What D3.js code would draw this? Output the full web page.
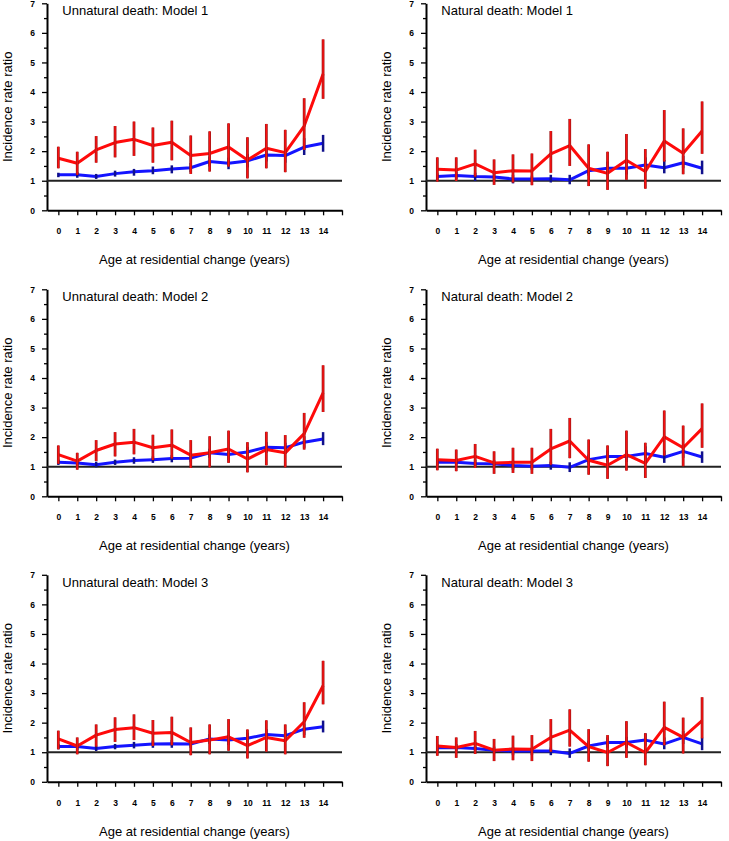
<!DOCTYPE html>
<html>
<head>
<meta charset="utf-8">
<script src="https://cdn.jsdelivr.net/npm/d3@7"></script>
<style>
  html, body { margin: 0; padding: 0; background: #fff; }
  svg { display: block; font-family: "Liberation Sans", Arial, Helvetica, sans-serif; }
</style>
</head>
<body>
<svg id="chart" width="729" height="841"></svg>
<script>
// ---- Data ----
const ages = [0,1,2,3,4,5,6,7,8,9,10,11,12,13,14];
const xTickValues = [0,1,2,3,4,5,6,7,8,9,10,11,12,13,14,15];
const xTickLabels = ["0","1","2","3","4","5","6","7","8","9","10","11","12","13","14",""];
const yTickValues = [0,1,2,3,4,5,6,7];
const panelTitles = ["Unnatural death: Model 1","Natural death: Model 1",
                     "Unnatural death: Model 2","Natural death: Model 2",
                     "Unnatural death: Model 3","Natural death: Model 3"];

// Unnatural death, Model 1
const u1Red   = [1.76,1.59,2.04,2.29,2.40,2.19,2.30,1.85,1.92,2.14,1.70,2.10,1.95,2.85,4.61];
const u1RedLo = [1.42,1.20,1.61,1.79,1.84,1.61,1.69,1.23,1.31,1.48,1.08,1.42,1.29,2.04,3.77];
const u1RedHi = [2.15,1.98,2.51,2.85,3.00,2.80,3.03,2.53,2.67,2.94,2.47,2.92,2.72,3.79,5.78];
const u1Blue   = [1.20,1.20,1.14,1.24,1.30,1.34,1.40,1.44,1.65,1.59,1.67,1.87,1.85,2.14,2.27];
const u1BlueLo = [1.12,1.10,1.06,1.14,1.17,1.22,1.25,1.29,1.48,1.39,1.45,1.65,1.61,1.87,1.98];
const u1BlueHi = [1.27,1.29,1.23,1.34,1.40,1.48,1.52,1.60,1.82,1.78,1.91,2.07,2.06,2.44,2.55];

// Natural death, Model 1
const n1Red   = [1.39,1.36,1.57,1.27,1.34,1.33,1.91,2.19,1.42,1.25,1.69,1.31,2.34,1.93,2.68];
const n1RedLo = [0.97,0.99,1.14,0.86,0.94,0.85,1.27,1.50,0.82,0.69,1.03,0.73,1.65,1.22,1.91];
const n1RedHi = [1.79,1.79,2.05,1.72,1.89,1.92,2.68,3.09,2.23,1.98,2.58,2.07,3.39,2.77,3.68];
const n1Blue   = [1.14,1.18,1.14,1.13,1.06,1.06,1.07,1.03,1.34,1.42,1.42,1.53,1.44,1.61,1.42];
const n1BlueLo = [1.03,1.06,0.99,0.99,0.91,0.95,0.94,0.88,1.17,1.23,1.21,1.31,1.25,1.42,1.22];
const n1BlueHi = [1.25,1.31,1.27,1.25,1.20,1.17,1.20,1.20,1.53,1.65,1.65,1.79,1.70,1.84,1.68];

// Unnatural death, Model 2
const u2Red   = [1.41,1.19,1.55,1.77,1.83,1.64,1.73,1.39,1.47,1.60,1.26,1.58,1.47,2.12,3.50];
const u2RedLo = [1.10,0.90,1.19,1.35,1.42,1.23,1.28,0.96,0.98,1.13,0.81,1.05,0.98,1.58,2.85];
const u2RedHi = [1.72,1.47,1.90,2.17,2.28,2.08,2.26,1.90,2.03,2.22,1.83,2.18,2.07,2.82,4.43];
const u2Blue   = [1.15,1.13,1.07,1.15,1.21,1.24,1.28,1.29,1.47,1.41,1.50,1.66,1.64,1.83,1.94];
const u2BlueLo = [1.06,1.02,0.98,1.06,1.10,1.13,1.15,1.15,1.30,1.22,1.32,1.47,1.45,1.64,1.73];
const u2BlueHi = [1.24,1.24,1.17,1.24,1.32,1.35,1.39,1.41,1.61,1.58,1.67,1.83,1.81,2.03,2.17];

// Natural death, Model 2
const n2Red   = [1.24,1.21,1.35,1.13,1.15,1.15,1.60,1.87,1.22,1.05,1.41,1.11,2.01,1.64,2.29];
const n2RedLo = [0.88,0.85,0.96,0.76,0.79,0.76,1.07,1.29,0.73,0.59,0.87,0.62,1.38,1.02,1.64];
const n2RedHi = [1.61,1.58,1.77,1.52,1.64,1.64,2.28,2.65,1.92,1.72,2.22,1.81,2.90,2.39,3.14];
const n2Blue   = [1.15,1.15,1.11,1.10,1.04,1.02,1.04,0.98,1.24,1.35,1.35,1.45,1.32,1.52,1.33];
const n2BlueLo = [1.04,1.04,0.99,0.96,0.90,0.90,0.90,0.82,1.07,1.16,1.16,1.24,1.13,1.30,1.13];
const n2BlueHi = [1.26,1.28,1.24,1.22,1.19,1.15,1.17,1.15,1.41,1.55,1.56,1.69,1.55,1.75,1.52];

// Unnatural death, Model 3
const u3Red   = [1.45,1.21,1.58,1.77,1.83,1.64,1.67,1.33,1.41,1.52,1.22,1.50,1.39,2.03,3.25];
const u3RedLo = [1.10,0.93,1.19,1.35,1.41,1.21,1.24,0.90,0.93,1.05,0.79,1.02,0.93,1.49,2.62];
const u3RedHi = [1.73,1.50,1.94,2.18,2.28,2.09,2.20,1.84,1.94,2.12,1.77,2.08,1.94,2.69,4.09];
const u3Blue   = [1.19,1.19,1.13,1.19,1.24,1.28,1.29,1.28,1.45,1.41,1.47,1.60,1.56,1.78,1.86];
const u3BlueLo = [1.10,1.07,1.04,1.10,1.13,1.15,1.15,1.15,1.28,1.24,1.30,1.42,1.38,1.58,1.67];
const u3BlueHi = [1.28,1.30,1.22,1.28,1.35,1.39,1.41,1.41,1.61,1.58,1.66,1.78,1.75,1.98,2.07];

// Natural death, Model 3
const n3Red   = [1.21,1.16,1.30,1.07,1.11,1.10,1.50,1.75,1.19,0.99,1.33,0.99,1.84,1.50,2.07];
const n3RedLo = [0.88,0.81,0.94,0.70,0.73,0.70,1.02,1.19,0.68,0.53,0.81,0.56,1.24,0.96,1.47];
const n3RedHi = [1.55,1.50,1.72,1.45,1.56,1.58,2.12,2.45,1.78,1.58,2.05,1.64,2.71,2.17,2.86];
const n3Blue   = [1.15,1.16,1.13,1.07,1.04,1.04,1.04,0.96,1.21,1.33,1.33,1.41,1.28,1.50,1.28];
const n3BlueLo = [1.04,1.04,1.02,0.96,0.90,0.90,0.90,0.81,1.05,1.15,1.15,1.22,1.10,1.28,1.07];
const n3BlueHi = [1.26,1.28,1.24,1.19,1.16,1.15,1.16,1.13,1.39,1.50,1.52,1.64,1.50,1.72,1.49];

const panels = [
  {title: panelTitles[0], red: u1Red, redLo: u1RedLo, redHi: u1RedHi, blue: u1Blue, blueLo: u1BlueLo, blueHi: u1BlueHi},
  {title: panelTitles[1], red: n1Red, redLo: n1RedLo, redHi: n1RedHi, blue: n1Blue, blueLo: n1BlueLo, blueHi: n1BlueHi},
  {title: panelTitles[2], red: u2Red, redLo: u2RedLo, redHi: u2RedHi, blue: u2Blue, blueLo: u2BlueLo, blueHi: u2BlueHi},
  {title: panelTitles[3], red: n2Red, redLo: n2RedLo, redHi: n2RedHi, blue: n2Blue, blueLo: n2BlueLo, blueHi: n2BlueHi},
  {title: panelTitles[4], red: u3Red, redLo: u3RedLo, redHi: u3RedHi, blue: u3Blue, blueLo: u3BlueLo, blueHi: u3BlueHi},
  {title: panelTitles[5], red: n3Red, redLo: n3RedLo, redHi: n3RedHi, blue: n3Blue, blueLo: n3BlueLo, blueHi: n3BlueHi}
];

// ---- Layout ----
const svg = d3.select("#chart");
const colOffsets = [0, 379];
const rowOffsets = [0, 286, 571.5];
const axisLeftX = 47, axisRightX = 342;
const plotTop = 3.3, plotBottom = 210.3;

panels.forEach((p, i) => {
  const cx = colOffsets[i % 2], ry = rowOffsets[Math.floor(i / 2)];
  const g = svg.append("g").attr("transform", `translate(${cx},${ry})`);

  const x = d3.scaleLinear().domain([-0.6, 15]).range([axisLeftX, axisRightX]);
  const y = d3.scaleLinear().domain([0, 7]).range([plotBottom, plotTop]);

  // Y axis with major + minor ticks
  const yAxis = d3.axisLeft(y).tickValues(yTickValues).tickSize(5).tickSizeOuter(0).tickPadding(7)
    .tickFormat(d3.format("d"));
  const yg = g.append("g").attr("transform", `translate(${axisLeftX},0)`).call(yAxis);
  const yMinor = d3.axisLeft(y).tickValues(d3.range(0.5, 7, 1)).tickSize(3).tickFormat("").tickSizeOuter(0);
  g.append("g").attr("class", "minor").attr("transform", `translate(${axisLeftX},0)`).call(yMinor)
    .select(".domain").remove();

  // X axis
  const xAxis = d3.axisBottom(x).tickValues(xTickValues).tickSize(5).tickSizeOuter(0).tickPadding(13)
    .tickFormat((d, k) => xTickLabels[k]);
  const xg = g.append("g").attr("transform", `translate(0,${y(0)})`).call(xAxis);

  [yg, xg, g.selectAll(".minor")].forEach(sel => {
    sel.selectAll(".domain").attr("stroke", "#000").attr("stroke-width", 2);
    sel.selectAll(".tick line").attr("stroke", "#000").attr("stroke-width", 1.3);
    sel.selectAll(".tick text").attr("fill", "#000").style("font-size", "8.5px").style("font-weight", "bold")
      .style("font-family", '"Liberation Sans", Arial, sans-serif');
  });

  // Reference line at IRR = 1
  g.append("line")
    .attr("x1", x(-0.6)).attr("x2", x(15))
    .attr("y1", y(1)).attr("y2", y(1))
    .attr("stroke", "#222").attr("stroke-width", 2);

  const line = d3.line().x((d, k) => x(ages[k])).y(d => y(d));

  // Blue series
  g.append("path").datum(p.blue).attr("d", line)
    .attr("fill", "none").attr("stroke", "#1414ff").attr("stroke-width", 3).attr("stroke-linejoin", "round");
  g.selectAll(".bbar").data(ages).enter().append("line")
    .attr("x1", d => x(d)).attr("x2", d => x(d))
    .attr("y1", (d, k) => y(p.blueLo[k])).attr("y2", (d, k) => y(p.blueHi[k]))
    .attr("stroke", "#10108c").attr("stroke-width", 2.5);

  // Red series
  g.append("path").datum(p.red).attr("d", line)
    .attr("fill", "none").attr("stroke", "#ff0a0a").attr("stroke-width", 3).attr("stroke-linejoin", "round");
  g.selectAll(".rbarOut").data(ages).enter().append("line")
    .attr("x1", d => x(d)).attr("x2", d => x(d))
    .attr("y1", (d, k) => y(p.redLo[k])).attr("y2", (d, k) => y(p.redHi[k]))
    .attr("stroke", "#a01818").attr("stroke-width", 2.8);
  g.selectAll(".rbarIn").data(ages).enter().append("line")
    .attr("x1", d => x(d)).attr("x2", d => x(d))
    .attr("y1", (d, k) => y(p.redLo[k])).attr("y2", (d, k) => y(p.redHi[k]))
    .attr("stroke", "#ff1010").attr("stroke-width", 1.3);

  // Title
  g.append("text").attr("x", x(0) + 4).attr("y", 15)
    .style("font-size", "13px").attr("fill", "#000").text(p.title);

  // Y axis title
  g.append("text")
    .attr("transform", `translate(${12},${(plotTop + plotBottom) / 2}) rotate(-90)`)
    .attr("text-anchor", "middle")
    .style("font-size", "13px").attr("fill", "#000").text("Incidence rate ratio");

  // X axis title
  g.append("text")
    .attr("x", (axisLeftX + axisRightX) / 2).attr("y", 264)
    .attr("text-anchor", "middle")
    .style("font-size", "13px").attr("fill", "#000").text("Age at residential change (years)");
});
</script>
</body>
</html>
